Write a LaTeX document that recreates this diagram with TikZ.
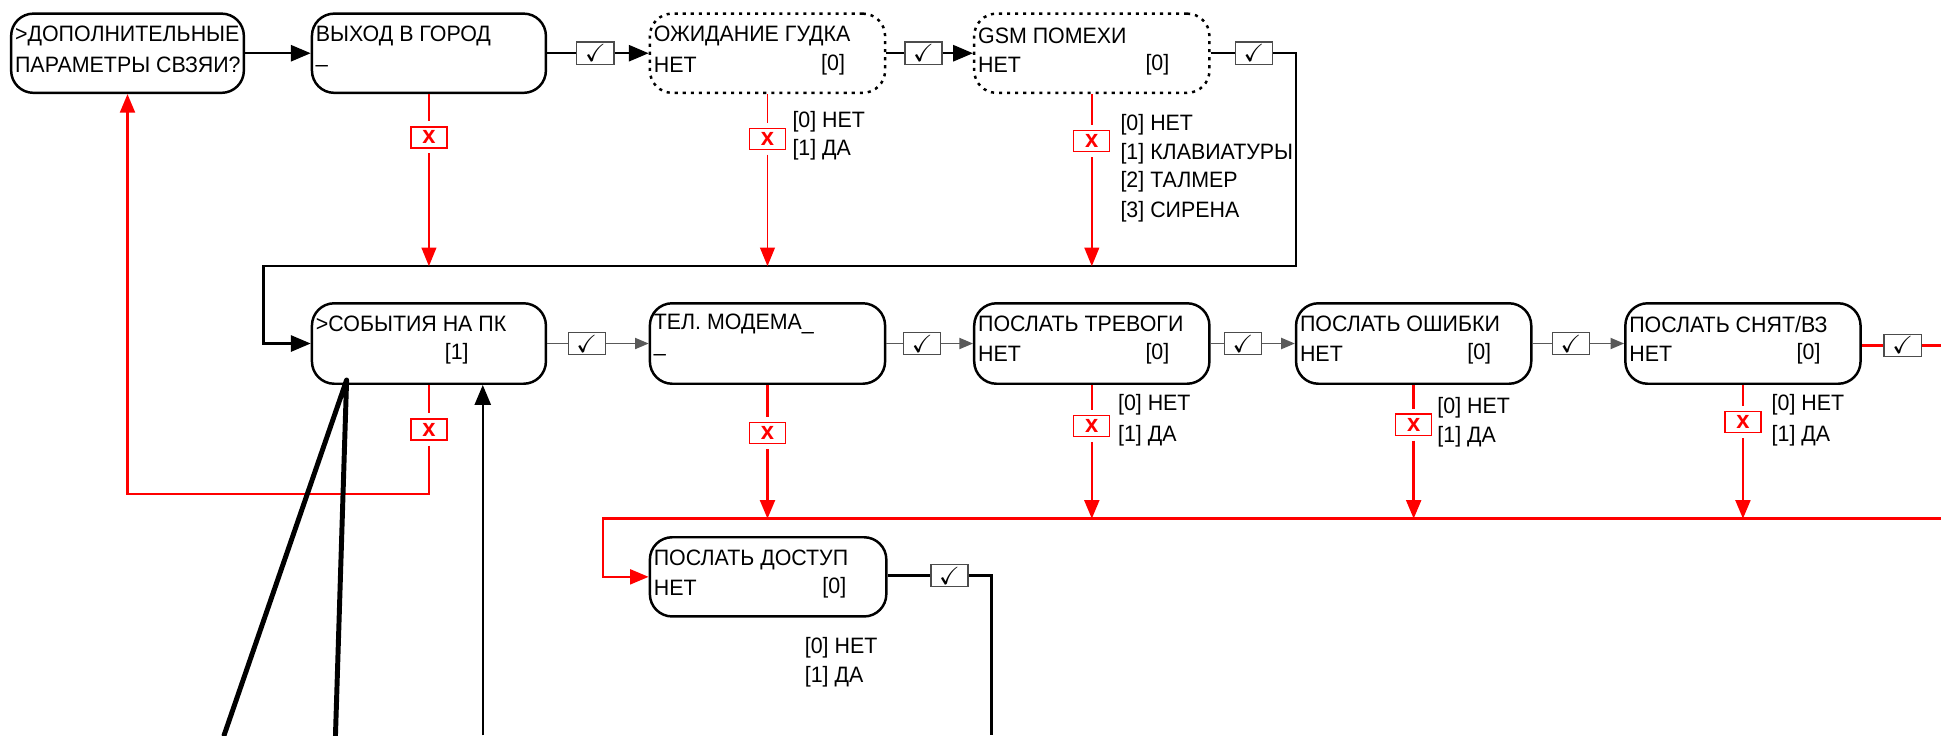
\documentclass[tikz,border=0pt]{standalone}
\usepackage{fontspec}
\setmainfont{Liberation Sans}[FakeStretch=0.96]
\usepackage{amssymb}
\usetikzlibrary{arrows.meta,calc}
\begin{document}
\begin{tikzpicture}[x=1pt,y=-1pt,
  box/.style={draw, line width=2pt, rounded corners=18pt, minimum width=189pt, minimum height=64pt, inner sep=0pt},
  dbox/.style={box, dash pattern=on 2.5pt off 4pt},
  t/.style={anchor=west, inner sep=0pt, font=\fontsize{18}{21}\selectfont},
  tc/.style={t, anchor=center},
  chk/.style={draw=black!70, line width=1pt, fill=white, minimum width=30pt, minimum height=18pt, inner sep=0pt, font=\fontsize{20}{20}\selectfont},
  xb/.style={draw=red, line width=1pt, fill=white, minimum width=29pt, minimum height=17pt, inner sep=0pt, text=red, font=\fontsize{20}{20}\selectfont\bfseries},
  bigarr/.style={-{Triangle[length=16pt,width=13pt]}},
  smarr/.style={-{Triangle[length=11pt,width=9pt]}},
  redarr/.style={-{Triangle[length=15pt,width=12pt]}},
  thk/.style={line width=2pt},
  thn/.style={line width=1.2pt, draw=black!65},
  rthin/.style={red, line width=1.2pt},
  rthk/.style={red, line width=2pt},
]
\useasboundingbox (0,0) rectangle (1568,594);

% ---- row 1 boxes
\node[box, minimum width=188pt] (A) at (103,43) {};
\node[box] (B) at (346.5,43) {};
\node[dbox, minimum width=190pt] (C) at (620,43) {};
\node[dbox, minimum width=190pt] (D) at (882,43) {};
% ---- row 2 boxes
\node[box, minimum height=65pt] (E) at (346.5,277.5) {};
\node[box, minimum height=65pt, minimum width=190pt] (F) at (620,277.5) {};
\node[box, minimum height=65pt, minimum width=190pt] (G) at (882,277.5) {};
\node[box, minimum height=65pt, minimum width=190pt] (H) at (1142,277.5) {};
\node[box, minimum height=65pt, minimum width=190pt] (I) at (1408,277.5) {};
\node[box, minimum width=191pt] (J) at (620.5,466) {};

% ---- box texts
\node[t] (At1) at ($(A.north west)+(4,19)$) {>ДОПОЛНИТЕЛЬНЫЕ};
\node[t] (At2) at ($(A.north west)+(4,42)$) {ПАРАМЕТРЫ СВЗЯИ?};
\node[t] (Bt1) at ($(B.north west)+(4,19)$) {ВЫХОД В ГОРОД};
\node[t] (Bt2) at ($(B.north west)+(4,42)$) {\_};
\node[t] (Ct1) at ($(C.north west)+(4,19)$) {ОЖИДАНИЕ ГУДКА};
\node[t] (Ct2) at ($(C.north west)+(4,42)$) {НЕТ};
\node[tc] (Ct3) at ($(C.north east)+(-43,42)$) {[0]};
\node[t] (Dt1) at ($(D.north west)+(4,19)$) {GSM ПОМЕХИ};
\node[t] (Dt2) at ($(D.north west)+(4,42)$) {НЕТ};
\node[tc] (Dt3) at ($(D.north east)+(-43,42)$) {[0]};
\node[t] (Et1) at ($(E.north west)+(4,18)$) {>СОБЫТИЯ НА ПК};
\node[tc] (Et2) at ($(E.north west)+(118,42)$) {[1]};
\node[t] (Ft1) at ($(F.north west)+(4,18)$) {ТЕЛ. МОДЕМА\_};
\node[t] (Ft2) at ($(F.north west)+(4,42)$) {\_};
\node[t] (Gt1) at ($(G.north west)+(4,18)$) {ПОСЛАТЬ ТРЕВОГИ};
\node[t] (Gt2) at ($(G.north west)+(4,42)$) {НЕТ};
\node[tc] (Gt3) at ($(G.north east)+(-43,42)$) {[0]};
\node[t] (Ht1) at ($(H.north west)+(4,18)$) {ПОСЛАТЬ ОШИБКИ};
\node[t] (Ht2) at ($(H.north west)+(4,42)$) {НЕТ};
\node[tc] (Ht3) at ($(H.north east)+(-43,42)$) {[0]};
\node[t] (It1) at ($(I.north west)+(4,18)$) {ПОСЛАТЬ СНЯТ/ВЗ};
\node[t] (It2) at ($(I.north west)+(4,42)$) {НЕТ};
\node[tc] (It3) at ($(I.north east)+(-43,42)$) {[0]};
\node[t] (Jt1) at ($(J.north west)+(4,19)$) {ПОСЛАТЬ ДОСТУП};
\node[t] (Jt2) at ($(J.north west)+(4,42)$) {НЕТ};
\node[tc] (Jt3) at ($(J.north east)+(-43,42)$) {[0]};

% ---- option texts
\node[t] (Co1) at (640,98) {[0] НЕТ};
\node[t] (Co2) at (640,121) {[1] ДА};
\node[t] (Do1) at (905,101) {[0] НЕТ};
\node[t] (Do2) at (905,124) {[1] КЛАВИАТУРЫ};
\node[t] (Do3) at (905,147) {[2] ТАЛМЕР};
\node[t] (Do4) at (905,171) {[3] СИРЕНА};
\node[t] (Go1) at (903,327) {[0] НЕТ};
\node[t] (Go2) at (903,352) {[1] ДА};
\node[t] (Ho1) at (1161,329) {[0] НЕТ};
\node[t] (Ho2) at (1161,353) {[1] ДА};
\node[t] (Io1) at (1431,327) {[0] НЕТ};
\node[t] (Io2) at (1431,352) {[1] ДА};
\node[t] (Jo1) at (650,523) {[0] НЕТ};
\node[t] (Jo2) at (650,547) {[1] ДА};

% ---- check boxes
\node[chk] (c1) at (481,43) {$\checkmark$};
\node[chk] (c2) at (746,43) {$\checkmark$};
\node[chk] (c3) at (1013,43) {$\checkmark$};
\node[chk] (c4) at (474,277.5) {$\checkmark$};
\node[chk] (c5) at (745,277.5) {$\checkmark$};
\node[chk] (c6) at (1004,277.5) {$\checkmark$};
\node[chk] (c7) at (1269,277.5) {$\checkmark$};
\node[chk] (c8) at (1537,279) {$\checkmark$};
\node[chk] (c9) at (767,465) {$\checkmark$};

% ---- cross boxes
\node[xb] (xB) at (346.5,111) {x};
\node[xb] (xC) at (620,112) {x};
\node[xb] (xD) at (882,114) {x};
\node[xb] (xE) at (346.5,347) {x};
\node[xb] (xF) at (620,350) {x};
\node[xb] (xG) at (882,344) {x};
\node[xb] (xH) at (1142,343) {x};
\node[xb] (xI) at (1408,341) {x};

% ---- coordinates
\coordinate (k1) at (1047,43);
\coordinate (k2) at (1047,215);
\coordinate (k3) at (213,215);
\coordinate (k4) at (213,277.5);
\coordinate (r1) at (346.5,399);
\coordinate (r2) at (103,399);
\coordinate (bR) at (1568,419);
\coordinate (bL) at (487,419);
\coordinate (bJ) at (487,466);
\coordinate (iR) at (1568,279);
\coordinate (j1) at (801,465);
\coordinate (j2) at (801,594);
\coordinate (u0) at (390,594);
\coordinate (p0) at (280,307);
\coordinate (p1) at (271,594);
\coordinate (p2) at (181,594);

% ---- row 1 connectors
\draw[thk, bigarr] (A.east) -- (B.west);
\draw[thk] (B.east) -- (c1.west);
\draw[thk, bigarr] (c1.east) -- (C.west);
\draw[thk] (C.east) -- (c2.west);
\draw[thk, bigarr] (c2.east) -- (D.west);
\draw[thk] (D.east) -- (c3.west);
\draw[thk, bigarr] (c3.east) -- (k1) -- (k2) -- (k3) -- (k4) -- (E.west);

% ---- row 2 connectors
\draw[thn] (E.east) -- (c4.west);
\draw[thn, smarr] (c4.east) -- (F.west);
\draw[thn] (F.east) -- (c5.west);
\draw[thn, smarr] (c5.east) -- (G.west);
\draw[thn] (G.east) -- (c6.west);
\draw[thn, smarr] (c6.east) -- (H.west);
\draw[thn] (H.east) -- (c7.west);
\draw[thn, smarr] (c7.east) -- (I.west);
\draw[rthk] (I.east |- c8) -- (c8.west);
\draw[rthk] (c8.east) -- (iR);

% ---- J connectors
\draw[thk] (J.east |- c9) -- (c9.west);
\draw[thk] (c9.east) -- (j1) -- (j2);

% ---- red connectors row 1
\draw[rthin, shorten >=4pt] (B.south) -- (xB.north);
\draw[rthin, redarr, shorten <=4pt] (xB.south) -- (xB |- k3);
\draw[rthin, shorten >=4pt] (C.south) -- (xC.north);
\draw[rthin, redarr, shorten <=4pt] (xC.south) -- (xC |- k3);
\draw[rthin, shorten >=4pt] (D.south) -- (xD.north);
\draw[rthin, redarr, shorten <=4pt] (xD.south) -- (xD |- k3);

% ---- red connectors row 2
\draw[rthk, shorten >=4pt] (E.south) -- (xE.north);
\draw[rthk, redarr, shorten <=4pt] (xE.south) -- (r1) -- (r2) -- (A.south);
\draw[rthk, shorten >=4pt] (F.south) -- (xF.north);
\draw[rthk, redarr, shorten <=4pt] (xF.south) -- (xF |- bL);
\draw[rthk, shorten >=4pt] (G.south) -- (xG.north);
\draw[rthk, redarr, shorten <=4pt] (xG.south) -- (xG |- bL);
\draw[rthk, shorten >=4pt] (H.south) -- (xH.north);
\draw[rthk, redarr, shorten <=4pt] (xH.south) -- (xH |- bL);
\draw[rthk, shorten >=4pt] (I.south) -- (xI.north);
\draw[rthk, redarr, shorten <=4pt] (xI.south) -- (xI |- bL);
\draw[rthk, redarr] (bR) -- (bL) -- (bJ) -- (J.west);

% ---- black lines at bottom
\draw[line width=1.5pt, bigarr] (u0) -- (u0 |- E.south);
\draw[line width=4pt, line join=round, line cap=round] (p1) -- (p0) -- (p2);
\end{tikzpicture}
\end{document}
